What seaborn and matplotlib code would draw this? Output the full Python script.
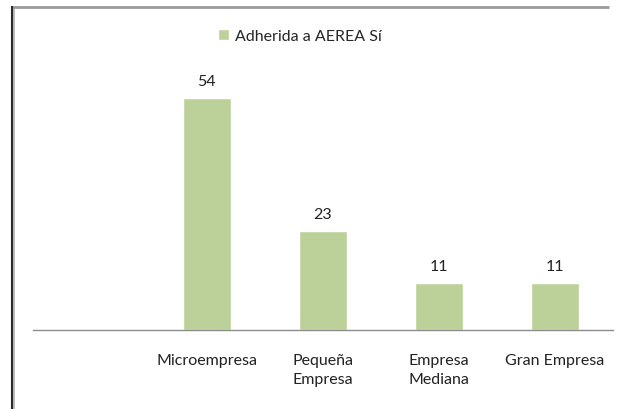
import matplotlib
matplotlib.use("Agg")
import matplotlib.pyplot as plt
import seaborn as sns
from matplotlib.lines import Line2D

# Chart data
categories = ["Microempresa", "Pequeña\nEmpresa", "Empresa\nMediana", "Gran Empresa"]
values = [54, 23, 11, 11]
series_name = "Adherida a AEREA Sí"
slot_order = [""] + categories

sns.set_style("white")
plt.rcParams['font.family'] = ['Lato', 'DejaVu Sans']

fig = plt.figure(figsize=(6.18, 4.10), dpi=100)
ax = fig.add_axes([0.053, 0.193, 0.939, 0.629])

sns.barplot(x=categories, y=values, order=slot_order, color="#BCD19A",
            saturation=1, width=0.41, ax=ax, label=series_name)

ax.set_ylim(0, 60)
ax.bar_label(ax.containers[0], padding=7, fontsize=11.5, color="#222222")

for side in ["left", "right", "top"]:
    ax.spines[side].set_visible(False)
ax.spines["bottom"].set_color("#8c8c8c")
ax.spines["bottom"].set_linewidth(1)
ax.set_yticks([])
ax.tick_params(axis="x", length=0, pad=17, labelsize=11.5, colors="#222222")
for t in ax.get_xticklabels():
    t.set_linespacing(1.45)
    t.set_multialignment("center")
ax.set_xlabel("")
ax.set_ylabel("")

leg = ax.legend(loc="center", bbox_to_anchor=(300 / 618, 1 - 37 / 410),
                bbox_transform=fig.transFigure, frameon=False, fontsize=11.5,
                handlelength=0.65, handleheight=0.65, handletextpad=0.4)

# outer chart frame (only left and top edges fall inside the image)
x0, y0 = 11.5 / 618, 1 - 7.5 / 410
fig.add_artist(Line2D([x0 + 2 / 618, x0 + 2 / 618], [0, y0], transform=fig.transFigure,
                      color="#b0b0b0", linewidth=1.2, solid_capstyle="butt"))
fig.add_artist(Line2D([x0, 0.985], [y0, y0], transform=fig.transFigure,
                      color="#9a9a9a", linewidth=2, solid_capstyle="butt"))
fig.add_artist(Line2D([x0, x0], [0, y0 + 1 / 410], transform=fig.transFigure,
                      color="#2a2a2a", linewidth=1.5, solid_capstyle="butt"))

fig.savefig("out.png", dpi=100)
